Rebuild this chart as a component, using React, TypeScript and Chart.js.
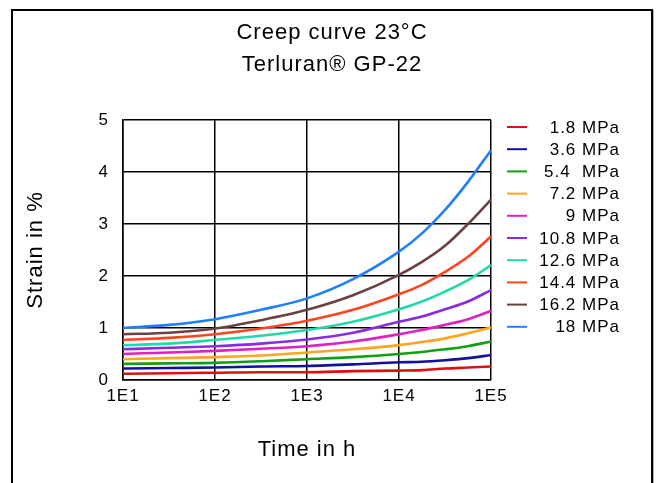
import React, { useEffect, useRef } from 'react';
import { Chart, registerables } from 'chart.js';

Chart.register(...registerables);

const TITLE_LINES = ['Creep curve 23°C', 'Terluran® GP-22'];
const X_TITLE = 'Time in h';
const Y_TITLE = 'Strain in %';

const TIMES = [10, 31.6, 100, 316, 1000, 3162, 10000, 17783, 31623, 56234, 100000];
const X_TICKS = [10, 100, 1000, 10000, 100000];
const X_TICK_LABELS = ['1E1', '1E2', '1E3', '1E4', '1E5'];
const Y_MIN = 0;
const Y_MAX = 5;
const Y_STEP = 1;

const SERIES_LABELS = [
  '1.8 MPa', '3.6 MPa', '5.4  MPa', '7.2 MPa', '9 MPa',
  '10.8 MPa', '12.6 MPa', '14.4 MPa', '16.2 MPa', '18 MPa',
];
const SERIES_COLORS = [
  '#dd1111', '#111199', '#11a011', '#ffa520', '#e020c0',
  '#8a2be2', '#20d8a8', '#ff4520', '#6e4040', '#1e80ff',
];

const S_1_8 = [0.12, 0.13, 0.14, 0.15, 0.15, 0.17, 0.18, 0.19, 0.22, 0.24, 0.26];
const S_3_6 = [0.22, 0.23, 0.24, 0.26, 0.27, 0.3, 0.34, 0.35, 0.38, 0.42, 0.48];
const S_5_4 = [0.31, 0.32, 0.33, 0.36, 0.4, 0.44, 0.5, 0.54, 0.59, 0.65, 0.74];
const S_7_2 = [0.4, 0.42, 0.44, 0.47, 0.53, 0.59, 0.67, 0.73, 0.8, 0.9, 1.01];
const S_9_0 = [0.5, 0.53, 0.56, 0.6, 0.65, 0.74, 0.88, 0.96, 1.06, 1.17, 1.33];
const S_10_8 = [0.59, 0.62, 0.65, 0.7, 0.78, 0.91, 1.12, 1.22, 1.36, 1.51, 1.73];
const S_12_6 = [0.67, 0.7, 0.77, 0.85, 0.96, 1.12, 1.36, 1.51, 1.7, 1.92, 2.21];
const S_14_4 = [0.77, 0.81, 0.88, 0.99, 1.14, 1.35, 1.65, 1.83, 2.08, 2.37, 2.76];
const S_16_2 = [0.88, 0.91, 0.99, 1.15, 1.35, 1.63, 2.02, 2.27, 2.58, 3.0, 3.47];
const S_18_0 = [1.0, 1.06, 1.17, 1.35, 1.57, 1.94, 2.47, 2.82, 3.27, 3.81, 4.42];

const SERIES = [S_1_8, S_3_6, S_5_4, S_7_2, S_9_0, S_10_8, S_12_6, S_14_4, S_16_2, S_18_0];

const FONT = "'Liberation Sans', Arial, Helvetica, sans-serif";

const spacingPlugin = {
  id: 'letterSpacing',
  beforeUpdate(chart: any) {
    chart.ctx.letterSpacing = '1px';
  },
  beforeDraw(chart: any) {
    chart.ctx.letterSpacing = '1px';
  },
};

const sideLegendPlugin = {
  id: 'sideLegend',
  afterDraw(chart: any) {
    const { ctx, chartArea } = chart;
    ctx.save();
    ctx.font = `17px ${FONT}`;
    ctx.textAlign = 'right';
    ctx.textBaseline = 'middle';
    ctx.fillStyle = '#000';
    chart.data.datasets.forEach((ds: any, i: number) => {
      const y = chartArea.top + 7 + i * 22.2;
      ctx.strokeStyle = ds.borderColor;
      ctx.lineWidth = 2;
      ctx.beginPath();
      ctx.moveTo(chartArea.right + 16, y);
      ctx.lineTo(chartArea.right + 36, y);
      ctx.stroke();
      ctx.fillText(ds.label, chartArea.right + 129, y + 1);
    });
    ctx.restore();
  },
};

export default function App() {
  const canvasRef = useRef<HTMLCanvasElement | null>(null);

  useEffect(() => {
    if (!canvasRef.current) return;
    Chart.defaults.font.family = FONT;
    Chart.defaults.color = '#000';
    const datasets = SERIES.map((vals, i) => ({
      label: SERIES_LABELS[i],
      data: vals.map((v, j) => ({ x: TIMES[j], y: v })),
      borderColor: SERIES_COLORS[i],
      backgroundColor: SERIES_COLORS[i],
      borderWidth: 2.6,
      pointRadius: 0,
      cubicInterpolationMode: 'monotone' as const,
      fill: false,
      xAxisID: 'x',
      yAxisID: 'y',
    }));

    const chart = new Chart(canvasRef.current, {
      type: 'line',
      data: { datasets },
      plugins: [spacingPlugin, sideLegendPlugin],
      options: {
        animation: false,
        responsive: false,
        layout: { padding: 0 },
        plugins: {
          legend: { display: false },
          tooltip: { enabled: false },
          title: {
            display: true,
            text: TITLE_LINES,
            color: '#000',
            font: { size: 22, weight: 'normal', lineHeight: '32px' as any },
            padding: { top: 6, bottom: 39 },
          },
        },
        scales: {
          x: {
            type: 'logarithmic',
            min: X_TICKS[0],
            max: X_TICKS[X_TICKS.length - 1],
            afterBuildTicks: (s: any) => {
              s.ticks = X_TICKS.map((v) => ({ value: v }));
            },
            afterFit: (s: any) => {
              s.height = 103;
              s.paddingLeft = 0;
              s.paddingRight = 0;
            },
            ticks: {
              autoSkip: false,
              maxRotation: 0,
              padding: 6,
              color: '#000',
              font: { size: 17 },
              callback: (_v: any, index: number) => X_TICK_LABELS[index],
            },
            grid: { color: '#000', lineWidth: 1.5, drawTicks: false },
            border: { color: '#000', width: 1.5 },
            title: {
              display: true,
              text: X_TITLE,
              color: '#000',
              font: { size: 22 },
              padding: { top: 0, bottom: 20 },
            },
          },
          y: {
            type: 'linear',
            min: Y_MIN,
            max: Y_MAX,
            afterFit: (s: any) => {
              s.width = 110;
              s.paddingTop = 0;
              s.paddingBottom = 0;
            },
            ticks: {
              stepSize: Y_STEP,
              padding: 14,
              color: '#000',
              font: { size: 17 },
            },
            grid: { color: '#000', lineWidth: 1.5, drawTicks: false },
            border: { color: '#000', width: 1.5 },
            title: {
              display: true,
              text: Y_TITLE,
              color: '#000',
              font: { size: 22 },
              padding: { top: 10, bottom: 0 },
            },
          },
          yLegendSpace: {
            type: 'linear',
            position: 'right',
            display: true,
            afterFit: (s: any) => {
              s.width = 160;
              s.paddingTop = 0;
              s.paddingBottom = 0;
            },
            grid: { display: false, drawTicks: false },
            border: { display: false },
            ticks: { display: false },
          },
        },
      } as any,
    });

    return () => chart.destroy();
  }, []);

  return (
    <div
      style={{
        position: 'fixed',
        left: 0,
        top: 0,
        width: 657,
        height: 483,
        overflow: 'hidden',
        background: '#fff',
      }}
    >
      <div
        style={{
          position: 'absolute',
          left: 11,
          top: 9,
          width: 638,
          height: 500,
          border: '2px solid #000',
          boxShadow: '1px 1px 0 #aaa',
          background: '#fff',
        }}
      >
        <canvas ref={canvasRef} width={638} height={472} style={{ display: 'block' }} />
      </div>
    </div>
  );
}
